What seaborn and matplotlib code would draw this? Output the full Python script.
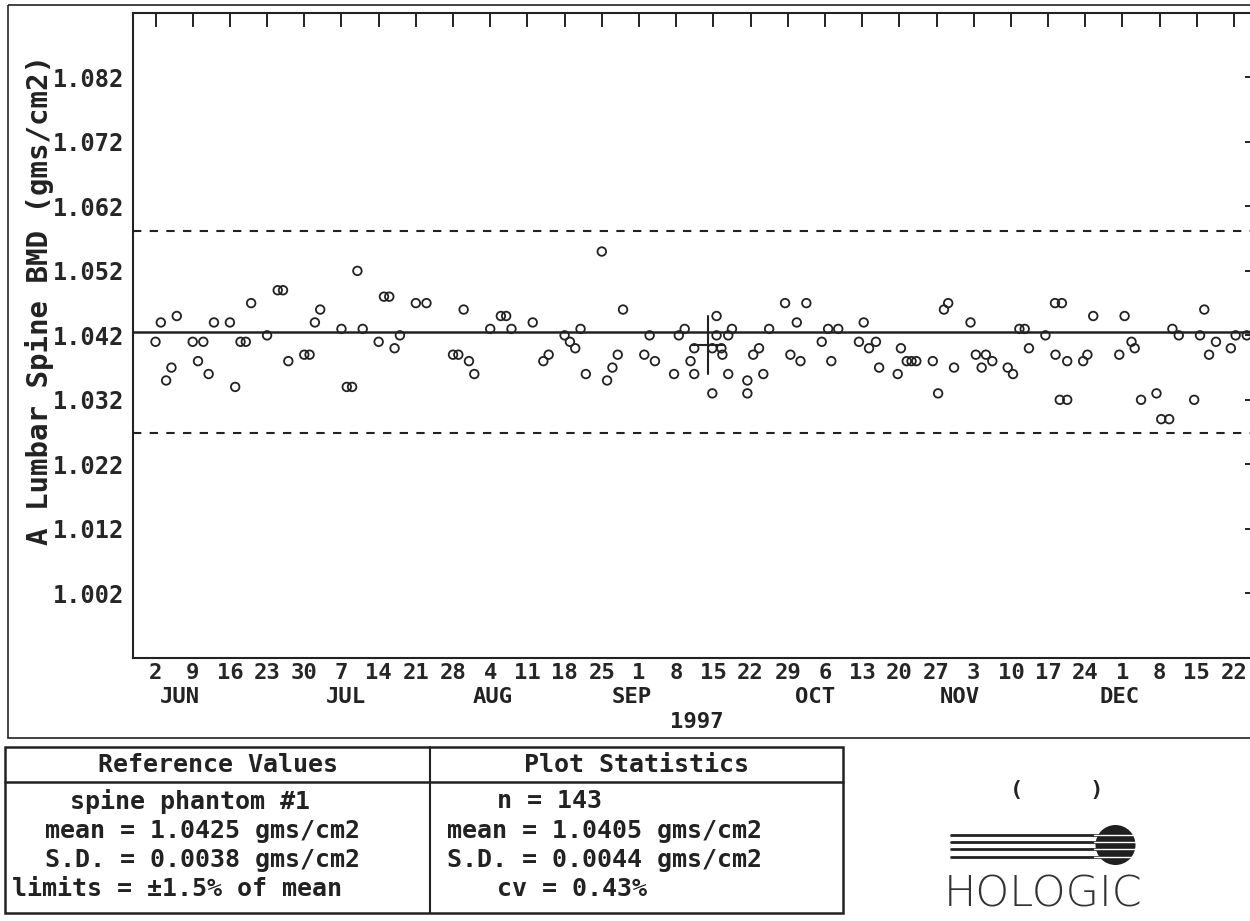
import matplotlib
matplotlib.use("Agg")
import matplotlib.pyplot as plt
import matplotlib.dates as mdates
from matplotlib.patches import Rectangle, Circle
from matplotlib.ticker import FuncFormatter
import seaborn as sns
import numpy as np
import pandas as pd

# scan dates, as days after Mon 2 Jun 1997
start = pd.Timestamp("1997-06-02")
day_offset = [
    0, 1, 2, 3, 4, 7, 8, 9, 10, 11,
    14, 15, 16, 17, 18, 21, 23, 24, 25, 28,
    29, 30, 31, 35, 36, 37, 38, 39, 42, 43,
    44, 45, 46, 49, 51, 56, 57, 58, 59, 60,
    63, 65, 66, 67, 71, 73, 74, 77, 78, 79,
    80, 81, 84, 85, 86, 87, 88, 92, 93, 94,
    97.6, 98.5, 99.6, 100.7, 101.4, 101.4, 104.8, 104.8, 105.6, 105.6,
    106.5, 106.7, 107.8, 107.8, 108.5, 111.4, 111.4, 112.5, 113.6, 114.4,
    115.5, 118.5, 119.5, 120.7, 121.4, 122.5, 125.4, 126.6, 128.5, 127.2,
    132.4, 133.3, 134.3, 135.6, 136.2, 139.7, 140.3, 141.4, 142.3, 143.2,
    146.3, 147.3, 148.4, 149.2, 150.3, 153.4, 154.4, 155.5, 156.3, 157.5,
    160.4, 161.4, 162.6, 163.6, 164.4, 167.5, 169.3, 170.6, 169.4, 170.2,
    171.6, 171.6, 174.6, 175.4, 176.5, 181.4, 182.4, 183.7, 184.3, 185.5,
    188.4, 189.3, 190.8, 191.4, 192.6, 195.5, 196.6, 197.4, 198.3, 199.6,
    202.4, 203.3, 205.4,
]
bmd = [
    1.041, 1.044, 1.035, 1.037, 1.045, 1.041, 1.038, 1.041, 1.036, 1.044,
    1.044, 1.034, 1.041, 1.041, 1.047, 1.042, 1.049, 1.049, 1.038, 1.039,
    1.039, 1.044, 1.046, 1.043, 1.034, 1.034, 1.052, 1.043, 1.041, 1.048,
    1.048, 1.040, 1.042, 1.047, 1.047, 1.039, 1.039, 1.046, 1.038, 1.036,
    1.043, 1.045, 1.045, 1.043, 1.044, 1.038, 1.039, 1.042, 1.041, 1.040,
    1.043, 1.036, 1.055, 1.035, 1.037, 1.039, 1.046, 1.039, 1.042, 1.038,
    1.036, 1.042, 1.043, 1.038, 1.040, 1.036, 1.033, 1.040, 1.045, 1.042,
    1.040, 1.039, 1.042, 1.036, 1.043, 1.035, 1.033, 1.039, 1.040, 1.036,
    1.043, 1.047, 1.039, 1.044, 1.038, 1.047, 1.041, 1.043, 1.043, 1.038,
    1.041, 1.044, 1.040, 1.041, 1.037, 1.036, 1.040, 1.038, 1.038, 1.038,
    1.038, 1.033, 1.046, 1.047, 1.037, 1.044, 1.039, 1.037, 1.039, 1.038,
    1.037, 1.036, 1.043, 1.043, 1.040, 1.042, 1.047, 1.047, 1.039, 1.032,
    1.032, 1.038, 1.038, 1.039, 1.045, 1.039, 1.045, 1.041, 1.040, 1.032,
    1.033, 1.029, 1.029, 1.043, 1.042, 1.032, 1.042, 1.046, 1.039, 1.041,
    1.040, 1.042, 1.042,
]

ref_mean = 1.0425
limit_pct = 1.5
plot_mean = 1.0405
cursor_day = 104

y_ticks = [1.002, 1.012, 1.022, 1.032, 1.042, 1.052, 1.062, 1.072, 1.082]
month_names = ["JUN", "JUL", "AUG", "SEP", "OCT", "NOV", "DEC"]
month_label_day = [4.6, 35.8, 63.5, 89.7, 124.1, 151.4, 181.5]
year_label = "1997"

ref_lines = ["spine phantom #1", "mean = 1.0425 gms/cm2",
             "S.D. = 0.0038 gms/cm2", "limits = \u00b11.5% of mean"]
stat_lines = ["n = 143", "mean = 1.0405 gms/cm2",
              "S.D. = 0.0044 gms/cm2", "cv = 0.43%"]

sns.set_theme(style="white")
plt.rcParams["font.family"] = ["DejaVu Sans Mono", "DejaVu Sans"]
plt.rcParams["font.weight"] = "bold"
ink = "#222222"

W, H = 1250, 921
fig = plt.figure(figsize=(12.5, 9.21), dpi=100)
ax = fig.add_axes([132.5 / W, 1 - 657.7 / H, (1259 - 132.5) / W, (657.7 - 13) / H])

df = pd.DataFrame({"date": start + pd.to_timedelta(day_offset, unit="D"), "bmd": bmd})
sns.scatterplot(data=df, x="date", y="bmd", ax=ax, marker="o", s=38,
                facecolor="none", edgecolor=ink, linewidth=1.3, zorder=3)

# reference mean and +/-1.5% limits
ax.axhline(ref_mean, color=ink, lw=1.8, zorder=2)
for sign in (1, -1):
    ax.axhline(ref_mean * (1 + sign * limit_pct / 100), color=ink, lw=1.5,
               ls=(0, (4, 4)), zorder=2)

# cursor cross
cx = start + pd.Timedelta(days=cursor_day)
ax.plot([cx, cx], [plot_mean - 0.0045, plot_mean + 0.0045], color=ink, lw=1.5)
ax.plot([cx - pd.Timedelta(days=3), cx + pd.Timedelta(days=3)], [plot_mean, plot_mean],
        color=ink, lw=1.5)

ax.set_xlim(start - pd.Timedelta(days=4.33), start + pd.Timedelta(days=207.7))
ax.set_ylim(0.992, 1.092)
ax.set_yticks(y_ticks)
ax.yaxis.set_major_formatter(FuncFormatter(lambda v, p: f"{v:.3f}"))
ax.xaxis.set_major_locator(mdates.WeekdayLocator(byweekday=mdates.MO))
ax.xaxis.set_major_formatter(FuncFormatter(lambda v, p: str(mdates.num2date(v).day)))
ax.tick_params(direction="in", length=10, width=1.4, color=ink, top=True, right=True)
ax.tick_params(axis="x", labelsize=16, pad=4)
ax.tick_params(axis="y", labelsize=17, pad=6)
ax.set_xlabel("")
ax.set_ylabel("")
for sp in ax.spines.values():
    sp.set_linewidth(1.5)
    sp.set_color(ink)

xt = ax.get_xaxis_transform()
for name, d in zip(month_names, month_label_day):
    ax.text(start + pd.Timedelta(days=d), -0.061, name, transform=xt,
            ha="center", va="center", fontsize=16, color=ink)
ax.text(start + pd.Timedelta(days=101.9), -0.0997, year_label, transform=xt,
        ha="center", va="center", fontsize=16, color=ink)

fig.text(40 / W, 1 - 300 / H, "A Lumbar Spine BMD (gms/cm2)", rotation=90,
         ha="center", va="center", fontsize=21, color=ink)

# page frame, statistics box and logo (pixel coordinates)
deco = fig.add_axes([0, 0, 1, 1])
deco.set_xlim(0, W)
deco.set_ylim(H, 0)
deco.axis("off")
deco.add_patch(Rectangle((8, 5), 1300, 733, fill=False, lw=1.2, ec=ink))
deco.add_patch(Rectangle((5, 747), 838, 166, fill=False, lw=1.8, ec=ink))
deco.plot([430, 430], [747, 913], color=ink, lw=1.5)
deco.plot([5, 843], [782, 782], color=ink, lw=1.8)

deco.text(218, 765, "Reference Values", ha="center", va="center", fontsize=18, color=ink)
deco.text(637, 765, "Plot Statistics", ha="center", va="center", fontsize=18, color=ink)
for (x0, y0), line in zip([(70, 801), (45, 831), (45, 860), (12, 889)], ref_lines):
    deco.text(x0, y0, line, ha="left", va="center", fontsize=18, color=ink)
for (x0, y0), line in zip([(497, 801), (447, 831), (447, 860), (497, 889)], stat_lines):
    deco.text(x0, y0, line, ha="left", va="center", fontsize=18, color=ink)

deco.text(1057, 790, "(     )", ha="center", va="center", fontsize=16, color=ink)
stripe_y = [835, 841.7, 849.3, 857.3]
for yy in stripe_y:
    deco.plot([951, 1100], [yy, yy], color=ink, lw=2.0)
deco.add_patch(Circle((1115.5, 845), 20, fc="#1f1f1f", ec="none"))
for yy in stripe_y:
    deco.plot([1094, 1137], [yy, yy], color="white", lw=1.0)
deco.text(1043, 894, "HOLOGIC", family="DejaVu Sans", fontweight="light",
          fontsize=31, color="#333333", ha="center", va="center")

fig.savefig("out.png", dpi=100, facecolor="white")
